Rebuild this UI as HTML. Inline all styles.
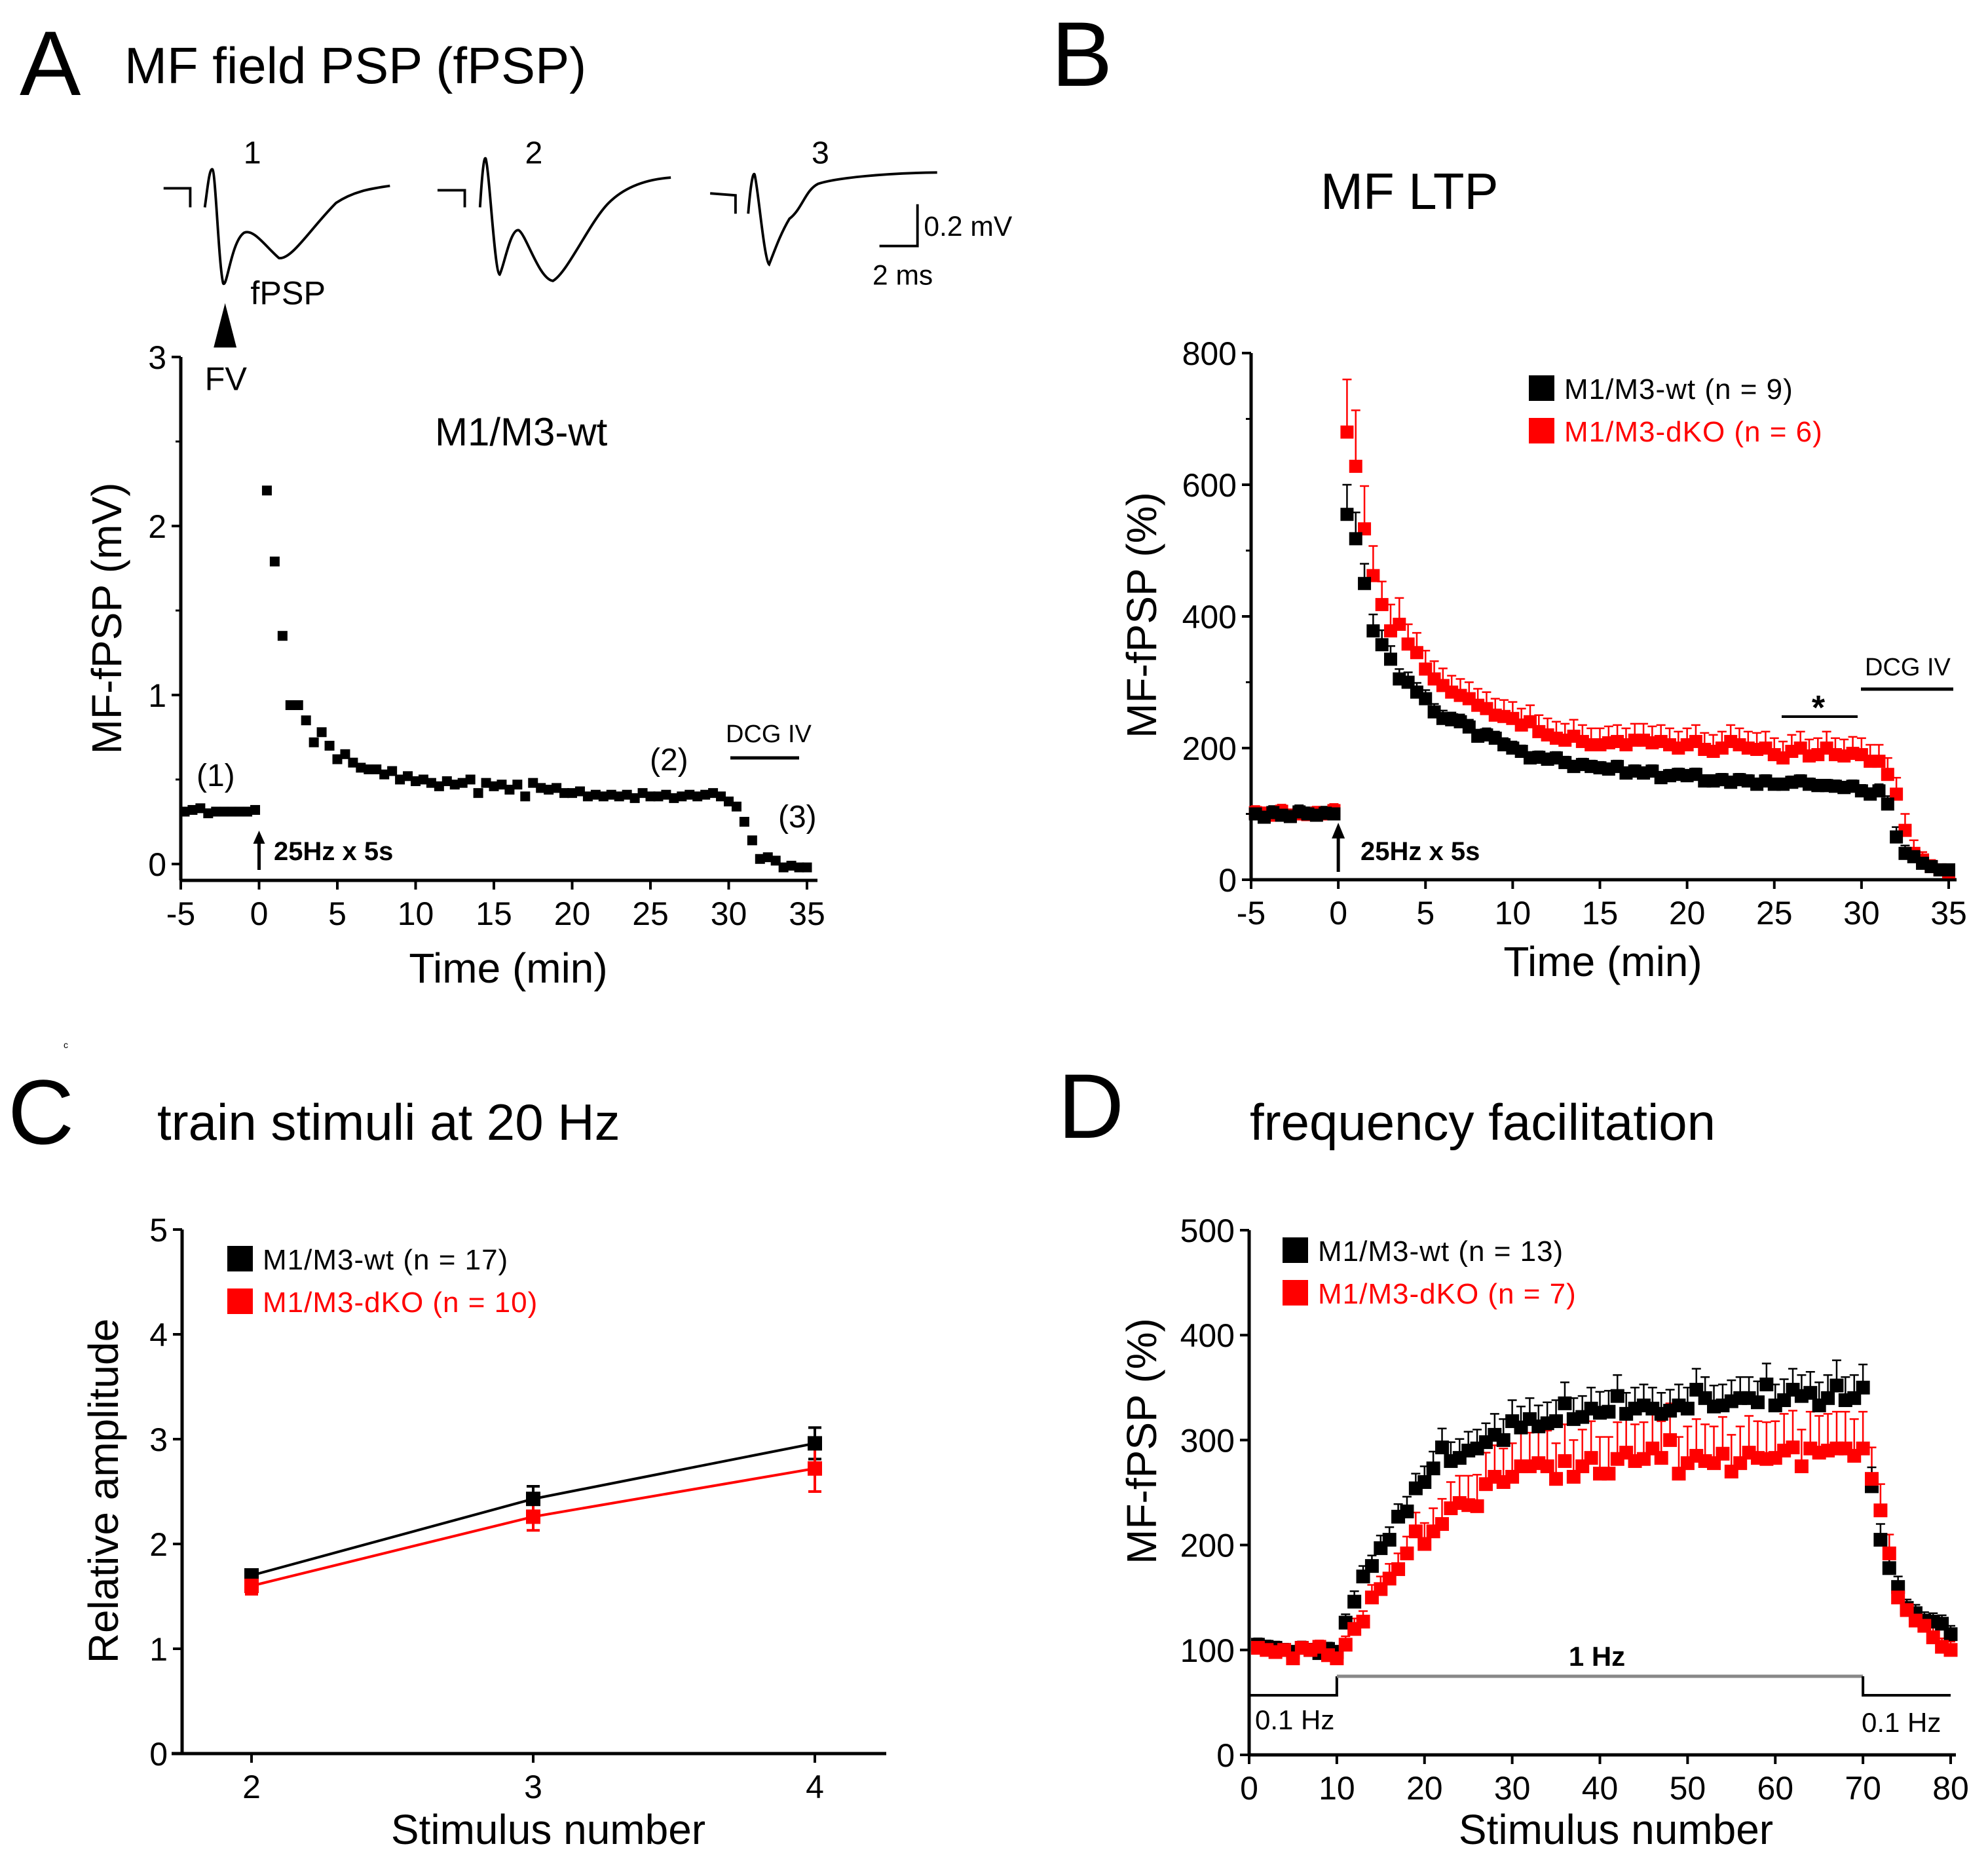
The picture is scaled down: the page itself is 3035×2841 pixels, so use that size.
<!DOCTYPE html>
<html><head><meta charset="utf-8">
<style>
html,body{margin:0;padding:0;background:#fff;}
svg{display:block;font-family:"Liberation Sans",Arial,sans-serif;}
</style></head>
<body>
<svg id="fig" width="3035" height="2841" viewBox="0 0 3035 2841" xmlns="http://www.w3.org/2000/svg">
<rect width="3035" height="2841" fill="#fff"/>
<text x="30" y="145" font-size="140">A</text>
<text x="190" y="127" font-size="78">MF field PSP (fPSP)</text>
<text x="1605" y="131" font-size="140">B</text>
<text x="2016" y="319" font-size="78">MF LTP</text>
<text x="97" y="1600" font-size="14">c</text>
<text x="12" y="1746" font-size="140">C</text>
<text x="240" y="1740" font-size="78">train stimuli at 20 Hz</text>
<text x="1615" y="1737" font-size="140">D</text>
<text x="1908" y="1740" font-size="78">frequency facilitation</text>

<g transform="scale(0.968)">
<g fill="none" stroke="#000" stroke-width="4">
<path d="M258,297 L300,297 L300,327 M323,327 C327,300 330,265 335,267 C340,270 345,420 352,447 C358,455 365,380 385,367 C400,360 420,390 440,407 C460,410 490,360 530,320 C560,300 590,297 615,293"/>
<path d="M690,300 L733,300 L733,327 M757,327 C760,280 763,245 766,250 C772,270 780,430 788,433 C795,420 805,360 818,363 C830,370 850,440 872,443 C895,430 930,350 960,320 C990,290 1030,282 1058,280"/>
<path d="M1120,305 L1160,308 L1160,337 M1180,337 C1183,300 1187,270 1190,275 C1195,290 1205,410 1213,417 C1220,400 1230,370 1245,345 C1265,330 1270,300 1290,290 C1320,280 1400,273 1478,272"/>
<path d="M1447,322 L1447,388 L1387,388"/>
</g>
<text x="384" y="258" font-size="50">1</text>
<text x="828" y="258" font-size="50">2</text>
<text x="1280" y="258" font-size="50">3</text>
<text x="1457" y="372" font-size="44">0.2 mV</text>
<text x="1376" y="449" font-size="44">2 ms</text>
<text x="395" y="480" font-size="52">fPSP</text>
<polygon points="355,478 337,548 373,548" fill="#000"/>
<text x="323" y="615" font-size="52">FV</text>
</g>

<g id="pa"></g>
<g id="pb"></g>
<g id="pc"></g>
<g id="pd"></g>
</svg>
<script>
const aTimes = [-4.75,-4.25,-3.75,-3.25,-2.75,-2.25,-1.75,-1.25,-0.75,-0.25,
0.5,1,1.5,2,2.5,3,3.5,4,4.5,5,5.5,6,6.5,7,7.5,8,8.5,9,9.5,10,10.5,11,11.5,12,12.5,13,13.5,14,14.5,15,15.5,16,16.5,17,17.5,18,18.5,19,19.5,20,20.5,21,21.5,22,22.5,23,23.5,24,24.5,25,25.5,26,26.5,27,27.5,28,28.5,29,29.5,30,30.5,31,31.5,32,32.5,33,33.5,34,34.5,35];
const aValues = [0.31,0.32,0.33,0.30,0.31,0.31,0.31,0.31,0.31,0.32,
2.21,1.79,1.35,0.94,0.94,0.85,0.72,0.78,0.70,0.62,0.65,0.60,0.57,0.56,0.56,0.53,0.55,0.50,0.52,0.49,0.50,0.48,0.46,0.49,0.47,0.48,0.50,0.42,0.48,0.46,0.47,0.44,0.47,0.40,0.48,0.45,0.44,0.45,0.42,0.42,0.43,0.40,0.41,0.40,0.41,0.40,0.41,0.39,0.42,0.40,0.40,0.41,0.39,0.40,0.41,0.40,0.41,0.42,0.40,0.37,0.34,0.25,0.14,0.03,0.04,0.02,-0.02,-0.01,-0.02,-0.02];
const aXTicks = [-5,0,5,10,15,20,25,30,35];
const aYTicks = [0,1,2,3];

const bTimes = [-4.75,-4.25,-3.75,-3.25,-2.75,-2.25,-1.75,-1.25,-0.75,-0.25,
0.5,1,1.5,2,2.5,3,3.5,4,4.5,5,5.5,6,6.5,7,7.5,8,8.5,9,9.5,10,10.5,11,11.5,12,12.5,13,13.5,14,14.5,15,15.5,16,16.5,17,17.5,18,18.5,19,19.5,20,20.5,21,21.5,22,22.5,23,23.5,24,24.5,25,25.5,26,26.5,27,27.5,28,28.5,29,29.5,30,30.5,31,31.5,32,32.5,33,33.5,34,34.5,35];
const bWt = [100,95,102,98,96,103,100,98,101,100,
555,518,450,378,357,335,305,300,285,275,255,245,243,240,232,218,220,215,205,200,195,185,186,183,185,178,172,175,172,170,168,172,162,165,162,165,155,158,160,158,160,150,150,152,148,152,150,145,150,145,145,148,150,145,143,143,142,140,142,135,130,135,115,65,40,35,25,20,15,15];
const bWtErr = [10,10,10,10,10,10,10,10,10,10,
45,40,30,25,22,20,15,15,14,13,12,12,11,11,11,10,10,10,10,10,9,9,9,9,9,9,9,9,9,9,9,9,9,9,9,9,9,9,9,9,9,9,9,9,9,9,9,9,9,9,9,9,9,9,9,9,9,9,9,9,9,10,12,15,12,10,8,8,8,8];
const bKo = [102,100,98,104,97,100,99,101,100,105,
680,628,533,462,418,378,388,358,345,320,305,295,285,280,275,265,260,250,248,245,235,240,225,220,215,212,218,210,205,205,208,210,205,212,212,208,210,205,200,205,210,198,195,200,210,205,200,198,200,190,185,195,200,188,190,200,190,188,192,190,180,180,160,130,75,40,30,20,15,12];
const bKoErr = [10,10,10,10,10,10,10,10,10,10,
80,85,65,45,35,40,40,30,30,28,27,26,25,25,25,25,25,25,25,25,25,25,25,25,25,25,25,25,25,25,25,25,25,25,25,25,25,25,25,25,25,25,25,25,25,25,25,25,25,25,25,25,25,25,25,25,25,25,25,25,25,25,25,25,25,20,12,10,8,8];
const bXTicks = [-5,0,5,10,15,20,25,30,35];
const bYTicks = [0,200,400,600,800];

const cStim = [2,3,4];
const cWt = [1.70,2.43,2.96];
const cWtErr = [0.05,0.12,0.15];
const cKo = [1.60,2.26,2.72];
const cKoErr = [0.08,0.13,0.22];
const cYTicks = [0,1,2,3,4,5];

const dStim = [1,2,3,4,5,6,7,8,9,10,11,12,13,14,15,16,17,18,19,20,21,22,23,24,25,26,27,28,29,30,31,32,33,34,35,36,37,38,39,40,41,42,43,44,45,46,47,48,49,50,51,52,53,54,55,56,57,58,59,60,61,62,63,64,65,66,67,68,69,70,71,72,73,74,75,76,77,78,79,80];
const dWt = [105,103,102,100,98,102,100,97,101,98,126,146,170,180,197,205,227,232,254,260,273,293,280,283,290,292,298,305,300,318,312,320,313,316,318,335,320,322,330,326,327,342,325,330,333,330,325,328,333,330,348,340,332,333,337,340,340,336,353,333,338,348,342,345,333,340,352,338,340,350,256,205,178,160,140,135,128,127,125,115];
const dWtErr = [6,6,6,6,6,6,6,6,6,6,8,10,10,10,12,12,12,14,14,15,16,18,18,18,18,18,18,20,20,20,20,20,20,20,20,20,20,20,20,20,20,20,20,20,20,20,20,20,20,20,20,20,20,20,20,20,20,20,20,20,20,20,20,20,22,22,24,22,22,22,18,15,12,10,8,8,8,8,8,8];
const dKo = [102,100,98,100,92,102,100,103,95,92,105,120,127,150,158,168,177,192,213,201,213,220,235,240,238,237,258,265,260,265,275,275,278,275,263,280,265,275,283,268,268,282,288,280,282,292,283,300,268,278,285,280,278,287,270,278,288,283,282,283,290,293,275,292,288,290,292,292,285,292,263,233,192,150,138,128,123,112,103,100];
const dKoErr = [6,6,6,6,6,6,6,6,6,6,8,10,10,12,12,14,15,16,18,20,22,24,25,26,28,30,30,30,32,32,32,32,34,34,34,35,35,35,35,35,35,35,35,35,35,35,35,35,35,35,35,35,35,35,35,35,35,35,35,35,35,35,35,35,35,35,35,35,35,35,30,25,18,12,10,10,10,10,8,8];
const dXTicks = [0,10,20,30,40,50,60,70,80];
const dYTicks = [0,100,200,300,400,500];

const NS = "http://www.w3.org/2000/svg";
function mk(parent, tag, attrs, txt){
  const e = document.createElementNS(NS, tag);
  for (const k in attrs) e.setAttribute(k, attrs[k]);
  if (txt !== undefined) e.textContent = txt;
  parent.appendChild(e);
  return e;
}
function lin(d0,d1,r0,r1){ return v => r0 + (v-d0)*(r1-r0)/(d1-d0); }

function axes(g, o){
  const sw = 5;
  let e = mk(g,'line',{x1:o.axL,y1:o.axB,x2:o.axL,y2:o.yTop,stroke:'#000','stroke-width':sw});
  
  
  e = mk(g,'line',{x1:o.xAxStart,y1:o.axB,x2:o.xAxEnd,y2:o.axB,stroke:'#000','stroke-width':sw});
  
  
  o.yTicks.forEach(v=>{
    const y = o.ys(v);
    let t = mk(g,'line',{x1:o.axL-14,y1:y,x2:o.axL,y2:y,stroke:'#000','stroke-width':4});
    
    
    let l = mk(g,'text',{x:o.axL-22,y:y+18,'font-size':o.fs,'text-anchor':'end'},String(v));
    
    
  });
  if (o.yMinor) o.yMinor.forEach(v=>{
    const y=o.ys(v);
    let t = mk(g,'line',{x1:o.axL-8,y1:y,x2:o.axL,y2:y,stroke:'#000','stroke-width':3});
    
    
  });
  o.xTicks.forEach(v=>{
    const x = o.xs(v);
    let t = mk(g,'line',{x1:x,y1:o.axB,x2:x,y2:o.axB+14,stroke:'#000','stroke-width':4});
    
    
    let l = mk(g,'text',{x:x,y:o.axB+68,'font-size':o.fs,'text-anchor':'middle'},String(v));
    
    
  });
  let xt = mk(g,'text',{x:o.xtX,y:o.xtY,'font-size':64,'text-anchor':'middle'},o.xTitle);
  
  
  let yt = mk(g,'text',{x:0,y:0,'font-size':64,'text-anchor':'middle',transform:`translate(${o.ytX},${o.ytY}) rotate(-90)`},o.yTitle);
  
  
}
function squares(g, xs, ys, X, Y, size, color, name){
  X.forEach((xv,i)=>{
    const r = mk(g,'rect',{x:xs(xv)-size/2,y:ys(Y[i])-size/2,width:size,height:size,fill:color});
    
    
  });
}
function errs(g, xs, ys, X, Y, E, color, name, cap){
  X.forEach((xv,i)=>{
    const x=xs(xv), y1=ys(Y[i]+E[i]), y0=ys(Y[i]);
    const p = mk(g,'path',{d:`M${x},${y0} L${x},${y1} M${x-cap},${y1} L${x+cap},${y1}`,stroke:color,'stroke-width':2.5,fill:'none'});
    
    
  });
}
function errsBoth(g, xs, ys, X, Y, E, color, name, cap){
  X.forEach((xv,i)=>{
    const x=xs(xv), y1=ys(Y[i]+E[i]), y0=ys(Y[i]-E[i]);
    const p = mk(g,'path',{d:`M${x},${y0} L${x},${y1} M${x-cap},${y1} L${x+cap},${y1} M${x-cap},${y0} L${x+cap},${y0}`,stroke:color,'stroke-width':4,fill:'none'});
    
    
  });
}
function legend(g, x, y, color, label, name){
  const r = mk(g,'rect',{x:x,y:y-20,width:39,height:39,fill:color});
  
  
  const t = mk(g,'text',{x:x+54,y:y+16,'font-size':44,fill:color,'letter-spacing':'1'},label);
  
  
}
function txt(g,x,y,s,fs,name,extra){
  const t = mk(g,'text',Object.assign({x:x,y:y,'font-size':fs},extra||{}),s);
  
  
  return t;
}
function line(g,d,color,w,name){
  const p = mk(g,'path',{d:d,stroke:color,'stroke-width':w,fill:'none'});
  
  
}

(function(){
  const g = document.getElementById('pa');
  const xs = lin(-5,35,276,1232), ys = lin(0,3,1319,545);
  axes(g,{axL:276,axB:1344,yTop:545,xAxStart:276,xAxEnd:1248,xs,ys,xTicks:aXTicks,yTicks:aYTicks,
    yMinor:[0.5,1.5,2.5],fs:50,xTitle:'Time (min)',xtX:776,xtY:1500,yTitle:'MF-fPSP (mV)',ytX:185,ytY:944});
  squares(g,xs,ys,aTimes,aValues,15,'#000','data-point-wt');
  txt(g,664,680,'M1/M3-wt',60,'series-label');
  txt(g,300,1200,'(1)',48,'timepoint-1-label');
  txt(g,992,1176,'(2)',48,'timepoint-2-label');
  txt(g,1188,1263,'(3)',48,'timepoint-3-label');
  txt(g,1108,1133,'DCG IV',38,'dcg-iv-label');
  line(g,'M1115,1157 L1220,1157','#000',5,'dcg-iv-bar');
  line(g,`M${xs(0)},1328 L${xs(0)},1282`,'#000',5,'stim-arrow');
  mk(g,'polygon',{points:`${xs(0)},1268 ${xs(0)-9},1288 ${xs(0)+9},1288`,fill:'#000'});
  txt(g,418,1313,'25Hz x 5s',40,'stim-label',{'font-weight':'bold'});
})();

(function(){
  const g = document.getElementById('pb');
  const xs = lin(-5,35,1910,2975), ys = lin(0,800,1343,539);
  axes(g,{axL:1910,axB:1343,yTop:539,xAxStart:1910,xAxEnd:2987,xs,ys,xTicks:bXTicks,yTicks:bYTicks,
    yMinor:[100,300,500,700],fs:50,xTitle:'Time (min)',xtX:2447,xtY:1490,yTitle:'MF-fPSP (%)',ytX:1765,ytY:939});
  errs(g,xs,ys,bTimes,bKo,bKoErr,'#f00','error-bar-dko',7);
  errs(g,xs,ys,bTimes,bWt,bWtErr,'#000','error-bar-wt',7);
  squares(g,xs,ys,bTimes,bKo,20,'#f00','data-point-dko');
  squares(g,xs,ys,bTimes,bWt,20,'#000','data-point-wt');
  legend(g,2334,593,'#000','M1/M3-wt (n = 9)','legend-entry-wt');
  legend(g,2334,658,'#f00','M1/M3-dKO (n = 6)','legend-entry-dko');
  txt(g,2847,1031,'DCG IV',38,'dcg-iv-label');
  line(g,'M2841,1052 L2982,1052','#000',5,'dcg-iv-bar');
  line(g,'M2720,1094 L2836,1094','#000',4,'significance-bar');
  txt(g,2776,1098,'*',52,'significance-star',{'text-anchor':'middle','font-weight':'bold'});
  line(g,`M${xs(0)},1331 L${xs(0)},1275`,'#000',5,'stim-arrow');
  mk(g,'polygon',{points:`${xs(0)},1256 ${xs(0)-10},1280 ${xs(0)+10},1280`,fill:'#000'});
  txt(g,2077,1313,'25Hz x 5s',40,'stim-label',{'font-weight':'bold'});
})();

(function(){
  const g = document.getElementById('pc');
  const xs = lin(2,4,384,1244), ys = lin(0,5,2677,1877);
  axes(g,{axL:278,axB:2677,yTop:1877,xAxStart:262,xAxEnd:1353,xs,ys,xTicks:cStim,yTicks:cYTicks,
    yMinor:null,fs:50,xTitle:'Stimulus number',xtX:837,xtY:2815,yTitle:'Relative amplitude',ytX:180,ytY:2276});
  line(g,cStim.map((s,i)=>(i?'L':'M')+xs(s)+','+ys(cWt[i])).join(' '),'#000',4,'line-wt');
  line(g,cStim.map((s,i)=>(i?'L':'M')+xs(s)+','+ys(cKo[i])).join(' '),'#f00',4,'line-dko');
  errsBoth(g,xs,ys,cStim,cWt,cWtErr,'#000','error-bar-wt',10);
  errsBoth(g,xs,ys,cStim,cKo,cKoErr,'#f00','error-bar-dko',10);
  squares(g,xs,ys,cStim,cWt,22,'#000','data-point-wt');
  squares(g,xs,ys,cStim,cKo,22,'#f00','data-point-dko');
  legend(g,347,1922,'#000','M1/M3-wt (n = 17)','legend-entry-wt');
  legend(g,347,1987,'#f00','M1/M3-dKO (n = 10)','legend-entry-dko');
})();

(function(){
  const g = document.getElementById('pd');
  const xs = lin(0,80,1907,2978), ys = lin(0,500,2679,1878);
  axes(g,{axL:1907,axB:2679,yTop:1878,xAxStart:1907,xAxEnd:2986,xs,ys,xTicks:dXTicks,yTicks:dYTicks,
    yMinor:null,fs:50,xTitle:'Stimulus number',xtX:2467,xtY:2815,yTitle:'MF-fPSP (%)',ytX:1765,ytY:2200});
  errs(g,xs,ys,dStim,dKo,dKoErr,'#f00','error-bar-dko',7);
  errs(g,xs,ys,dStim,dWt,dWtErr,'#000','error-bar-wt',7);
  squares(g,xs,ys,dStim,dWt,21,'#000','data-point-wt');
  squares(g,xs,ys,dStim,dKo,21,'#f00','data-point-dko');
  legend(g,1958,1909,'#000','M1/M3-wt (n = 13)','legend-entry-wt');
  legend(g,1958,1974,'#f00','M1/M3-dKO (n = 7)','legend-entry-dko');
  line(g,`M${xs(0)},2588 L${xs(10)},2588 L${xs(10)},2559`,'#000',4,'protocol-low-1');
  line(g,`M${xs(10)},2559 L${xs(70)},2559`,'#888',5,'protocol-high');
  line(g,`M${xs(70)},2559 L${xs(70)},2588 L${xs(80)},2588`,'#000',4,'protocol-low-2');
  txt(g,2438,2543,'1 Hz',42,'protocol-1hz-label',{'text-anchor':'middle','font-weight':'bold'});
  txt(g,1916,2640,'0.1 Hz',42,'protocol-01hz-label-left');
  txt(g,2842,2644,'0.1 Hz',42,'protocol-01hz-label-right');
})();
</script>
</body></html>
